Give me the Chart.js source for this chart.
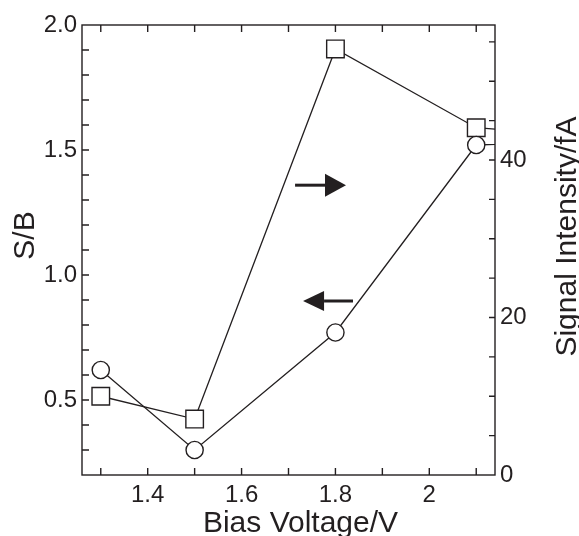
<!DOCTYPE html>
<html>
<head>
<meta charset="utf-8">
<script src="https://cdn.jsdelivr.net/npm/chart.js@4.4.1/dist/chart.umd.min.js"></script>
<style>
  html, body { margin: 0; padding: 0; background: #fff; }
  #wrap { width: 579px; height: 536px; }
</style>
</head>
<body>
<div id="wrap"><canvas id="sbChart" width="579" height="536"></canvas></div>
<script>
// values
const biasV = [1.3, 1.5, 1.8, 2.1, 2.4];
const sbRatio = [0.62, 0.30, 0.77, 1.52, 1.54];
const signalFA = [10.0, 7.1, 54.1, 44.1, 42.8];

const xTicks = [1.4, 1.6, 1.8, 2.0];
const xTickLabels = ['1.4', '1.6', '1.8', '2'];
const sbTicks = [0.5, 1.0, 1.5, 2.0];
const sbTickLabels = ['0.5', '1.0', '1.5', '2.0'];
const sigTicks = [0, 20, 40];
const sigTickLabels = ['0', '20', '40'];

const ink = '#231f20';
const fontName = '"Liberation Sans", Arial, sans-serif';

// arrows pointing at the axis each curve belongs to
const arrows = [
  { from: 1.714, to: 1.8225, y: 36.8, axis: 'yR', half: 11.5 },
  { from: 1.8374, to: 1.731, y: 0.896, axis: 'yL', half: 10 }
];

function minorRange(a, b, step) {
  let out = [];
  let n = Math.round((b - a) / step);
  for (let i = 0; i <= n; i++) out.push(+(a + i * step).toFixed(4));
  return out;
}

const framePlugin = {
  id: 'frame',
  afterDatasetsDraw(chart) {
    const ctx = chart.ctx;
    const a = chart.chartArea;
    const sx = chart.scales.x, sl = chart.scales.yL, sr = chart.scales.yR;

    // arrows
    ctx.save();
    ctx.fillStyle = ink;
    ctx.strokeStyle = ink;
    arrows.forEach(function(ar) {
      let y = chart.scales[ar.axis].getPixelForValue(ar.y);
      let x0 = sx.getPixelForValue(ar.from);
      let x1 = sx.getPixelForValue(ar.to);
      let dir = x1 > x0 ? 1 : -1;
      let hb = x1 - dir * 21;
      ctx.lineWidth = 3;
      ctx.beginPath();
      ctx.moveTo(x0, y);
      ctx.lineTo(hb, y);
      ctx.stroke();
      ctx.beginPath();
      ctx.moveTo(x1, y);
      ctx.lineTo(hb, y - ar.half);
      ctx.lineTo(hb, y + ar.half);
      ctx.closePath();
      ctx.fill();
    });
    ctx.restore();

    // box and inward ticks
    ctx.save();
    ctx.strokeStyle = ink;
    ctx.lineWidth = 1.4;
    ctx.strokeRect(a.left, a.top, a.right - a.left, a.bottom - a.top);
    ctx.beginPath();
    minorRange(1.3, 2.1, 0.1).forEach(function(v) {
      let px = sx.getPixelForValue(v);
      ctx.moveTo(px, a.bottom); ctx.lineTo(px, a.bottom - 7);
      ctx.moveTo(px, a.top); ctx.lineTo(px, a.top + 7);
    });
    minorRange(0.3, 1.9, 0.1).forEach(function(v) {
      let py = sl.getPixelForValue(v);
      ctx.moveTo(a.left, py); ctx.lineTo(a.left + 7, py);
    });
    minorRange(5, 55, 5).forEach(function(v) {
      let py = sr.getPixelForValue(v);
      ctx.moveTo(a.right, py); ctx.lineTo(a.right - 6, py);
    });
    ctx.stroke();

    // axis titles
    ctx.fillStyle = ink;
    ctx.font = '30px ' + fontName;
    ctx.textAlign = 'center';
    ctx.textBaseline = 'alphabetic';
    ctx.fillText('Bias Voltage/V', 300.5, 532);
    ctx.save();
    ctx.translate(34, 235.5);
    ctx.rotate(-Math.PI / 2);
    ctx.fillText('S/B', 0, 0);
    ctx.restore();
    ctx.save();
    ctx.translate(576, 236.5);
    ctx.rotate(-Math.PI / 2);
    ctx.fillText('Signal Intensity/fA', 0, 0);
    ctx.restore();
    ctx.restore();
  }
};

function fixedTicks(values) {
  return function(scale) {
    scale.ticks = values.map(function(v) { return { value: v }; });
  };
}

const tickFont = { family: fontName, size: 24 };
const noGrid = { display: false, drawTicks: false };

let ctx1 = document.getElementById('sbChart');

var config1 = {
  type: 'line',
  data: {
    datasets: [{
      label: 'S/B',
      data: biasV.map(function(x, i) { return { x: x, y: sbRatio[i] }; }),
      yAxisID: 'yL',
      borderColor: ink,
      borderWidth: 1.3,
      pointStyle: 'circle',
      pointRadius: 8.6,
      pointBorderWidth: 1.4,
      pointBorderColor: ink,
      pointBackgroundColor: '#fff',
      tension: 0
    }, {
      label: 'Signal Intensity',
      data: biasV.map(function(x, i) { return { x: x, y: signalFA[i] }; }),
      yAxisID: 'yR',
      borderColor: ink,
      borderWidth: 1.3,
      pointStyle: 'rect',
      pointRadius: 12.4,
      pointBorderWidth: 1.4,
      pointBorderColor: ink,
      pointBackgroundColor: '#fff',
      tension: 0
    }]
  },
  options: {
    responsive: false,
    animation: false,
    layout: { padding: { top: 25, left: 0, right: 0, bottom: 0 } },
    plugins: { legend: { display: false }, tooltip: { enabled: false } },
    scales: {
      x: {
        type: 'linear',
        min: 1.26,
        max: 2.14,
        grid: noGrid,
        border: { display: false },
        afterBuildTicks: fixedTicks(xTicks),
        afterFit: function(s) { s.height = 61; },
        ticks: {
          font: tickFont,
          color: ink,
          padding: 6,
          maxRotation: 0,
          autoSkip: false,
          callback: function(v, i) { return xTickLabels[i]; }
        }
      },
      yL: {
        type: 'linear',
        position: 'left',
        min: 0.2,
        max: 2.0,
        grid: noGrid,
        border: { display: false },
        afterBuildTicks: fixedTicks(sbTicks),
        afterFit: function(s) { s.width = 82; },
        ticks: {
          font: tickFont,
          color: ink,
          padding: 5,
          autoSkip: false,
          callback: function(v, i) { return sbTickLabels[i]; }
        }
      },
      yR: {
        type: 'linear',
        position: 'right',
        min: 0,
        max: 57.14,
        grid: noGrid,
        border: { display: false },
        afterBuildTicks: fixedTicks(sigTicks),
        afterFit: function(s) { s.width = 84; },
        ticks: {
          font: tickFont,
          color: ink,
          padding: 5,
          autoSkip: false,
          callback: function(v, i) { return sigTickLabels[i]; }
        }
      }
    }
  },
  plugins: [framePlugin]
};

let chart1 = new Chart(ctx1, config1);
</script>
</body>
</html>
